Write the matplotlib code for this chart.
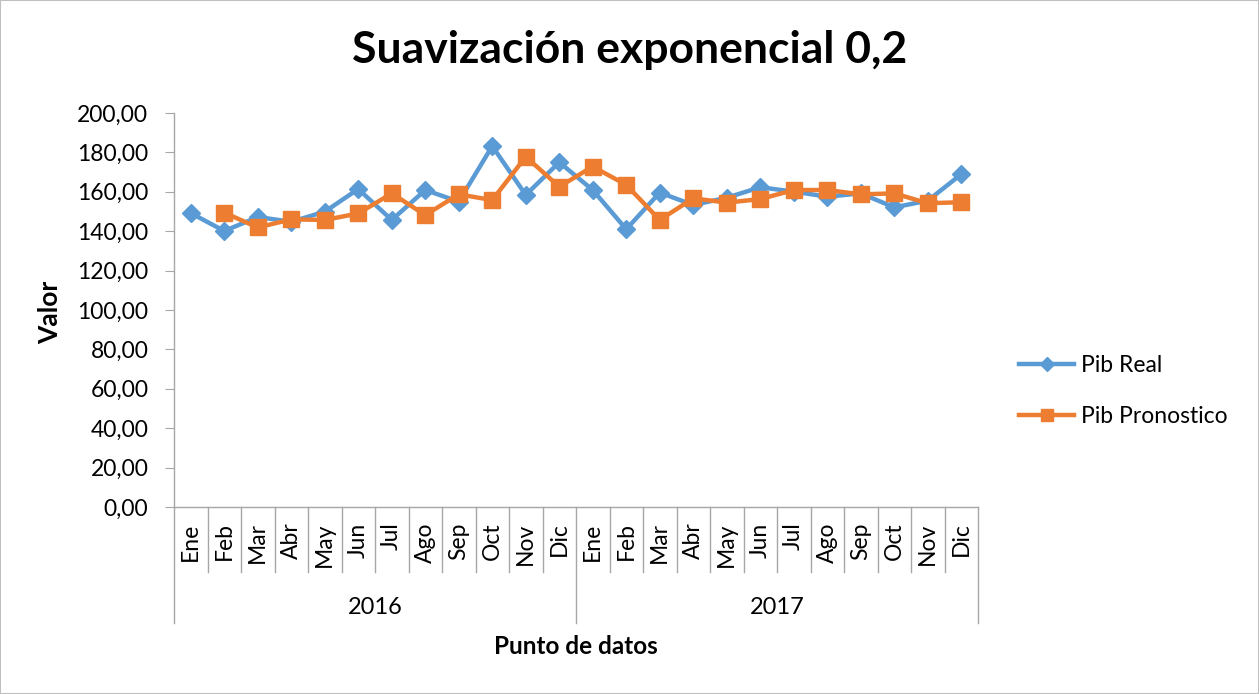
import matplotlib
matplotlib.use("Agg")
import matplotlib.pyplot as plt
import matplotlib.patches as patches
import numpy as np

# *** DATA
MONTHS = ["Ene", "Feb", "Mar", "Abr", "May", "Jun", "Jul", "Ago", "Sep", "Oct", "Nov", "Dic"]
YEARS = ["2016", "2017"]
PIB_REAL = [149.2, 140.1, 147.2, 144.8, 149.9, 161.4, 145.7, 160.9, 155.0, 183.2, 158.4, 175.0,
            160.9, 141.0, 159.6, 153.3, 157.0, 162.3, 160.1, 157.5, 159.2, 152.1, 155.5, 168.9]
PIB_PRONOSTICO = [None, 149.4, 141.9, 146.0, 145.7, 149.0, 159.2, 148.2, 158.7, 155.8, 177.8, 162.6,
                  172.8, 163.5, 145.7, 156.7, 154.5, 156.3, 160.9, 160.9, 158.7, 159.2, 154.2, 154.7]
Y_TICKS = [0, 20, 40, 60, 80, 100, 120, 140, 160, 180, 200]

BLUE = "#5B9BD5"
ORANGE = "#ED7D31"
GRAY = "#A6A6A6"
FONT = "Lato"

W, H = 1259, 694
fig = plt.figure(figsize=(W / 100, H / 100), dpi=100)
ax = fig.add_axes([174 / W, 1 - 507 / H, (978 - 174) / W, (507 - 113) / H])

n = len(PIB_REAL)
x = np.arange(n)
fc = np.array([np.nan if v is None else v for v in PIB_PRONOSTICO], dtype=float)

ax.plot(x, PIB_REAL, color=BLUE, lw=3.2, marker="D", ms=9.5, label="Pib Real", zorder=3)
ax.plot(x, fc, color=ORANGE, lw=3.2, marker="s", ms=11, label="Pib Pronostico", zorder=4)

ax.set_xlim(-0.5, n - 0.5)
ax.set_ylim(0, 200)
ax.set_yticks(Y_TICKS)
ax.set_yticklabels([f"{v:.2f}".replace(".", ",") for v in Y_TICKS], fontsize=16.5, family=FONT)
ax.tick_params(axis="y", length=6.5, color=GRAY, pad=12)

for s in ["top", "right"]:
    ax.spines[s].set_visible(False)
for s in ["left", "bottom"]:
    ax.spines[s].set_color(GRAY)
    ax.spines[s].set_linewidth(1)

# month level
ax.set_xticks(x)
ax.set_xticklabels(MONTHS * len(YEARS), rotation=90, fontsize=16.5, family=FONT)
ax.tick_params(axis="x", length=0, pad=11)

trans = ax.get_xaxis_transform()
month_depth = -65 / 394
year_depth = -116 / 394
for b in range(n + 1):
    depth = year_depth if b % 12 == 0 else month_depth
    ax.plot([b - 0.5, b - 0.5], [0, depth], transform=trans, color=GRAY, lw=1, clip_on=False)
for i, yr in enumerate(YEARS):
    ax.text(i * 12 + 5.5, -101 / 394, yr, transform=trans, ha="center", va="center",
            fontsize=17, family=FONT)

fig.text(50 / W, 1 - 312 / H, "Valor", ha="center", va="center", rotation=90,
         fontsize=19, fontweight="bold", family=FONT)
fig.text((174 + 978) / 2 / W, 1 - 647 / H, "Punto de datos", ha="center", va="center",
         fontsize=17.5, fontweight="bold", family=FONT)
fig.text(630 / W, 1 - 50 / H, "Suavización exponencial 0,2", ha="center", va="center",
         fontsize=32, fontweight="bold", family=FONT)

leg = ax.legend(loc="center left", frameon=False, prop={"family": FONT, "size": 16.5},
                handlelength=2.4, handletextpad=0.3, labelspacing=1.3, borderpad=0,
                borderaxespad=0, markerscale=0.75)
leg.set_bbox_to_anchor((1.051, 0.295), transform=ax.transAxes)

fig.patches.append(patches.Rectangle((0, 0), 1, 1, transform=fig.transFigure, fill=False,
                                     edgecolor="#BFBFBF", lw=1.5))

fig.savefig("out.png", dpi=100)
